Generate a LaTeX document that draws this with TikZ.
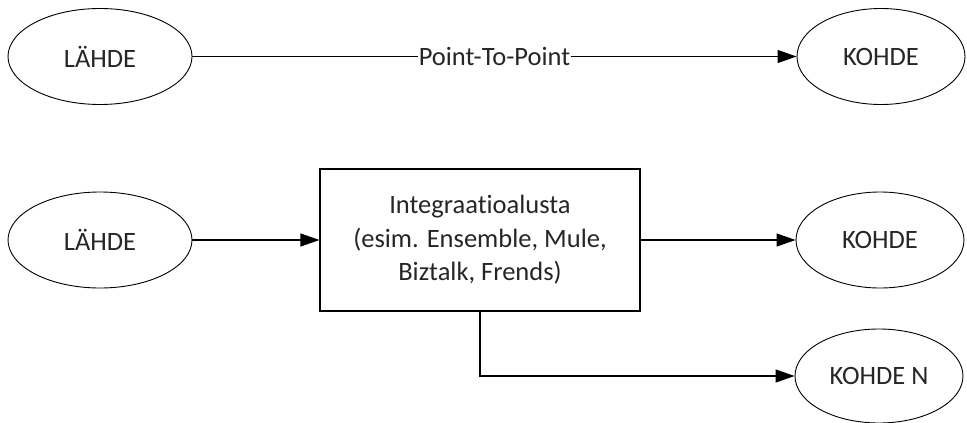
\documentclass[tikz,border=0pt]{standalone}
\usepackage{fontspec}
\setmainfont{Carlito}[Ligatures={NoCommon}]
\usepackage{tikz}
\usetikzlibrary{shapes.geometric}
\usetikzlibrary{arrows.meta}

\tikzset{
  endpoint/.style={draw, ellipse, line width=0.9pt, inner sep=0pt, text=black!85},
  platform/.style={draw, rectangle, line width=1.1pt, minimum width=320pt, minimum height=142pt, align=center, text=black!85},
  flow/.style={line width=1.2pt, -{Triangle[length=19pt,width=13pt]}}
}

\begin{document}
\begin{tikzpicture}[x=1pt, y=-1pt, font=\fontsize{26.5}{33.5}\selectfont]
                \useasboundingbox (0,0) rectangle (967,423);

                % Point-To-Point row
                \node[endpoint, minimum width=184pt, minimum height=96pt] (lahdeA) at (100, 56.5) {LÄHDE};
                \node[endpoint, minimum width=168pt, minimum height=96pt] (kohdeA) at (881, 56.5) {KOHDE};
                \draw[flow] (lahdeA) -- (kohdeA) node[midway, fill=white, inner sep=1pt, text=black!85]{Point-To-Point};

                % Integration platform row
                \node[endpoint, minimum width=184pt, minimum height=96pt] (lahdeB) at (100, 240) {LÄHDE};
                \node[platform] (alusta) at (480, 240) {Integraatioalusta\\(esim. Ensemble, Mule,\\Biztalk, Frends)};
                \node[endpoint, minimum width=168pt, minimum height=96pt] (kohdeB) at (880, 240) {KOHDE};
                \node[endpoint, minimum width=168pt, minimum height=94pt] (kohdeN) at (879, 376) {KOHDE N};

                \draw[flow] (lahdeB) -- (alusta);
                \draw[flow] (alusta) -- (kohdeB);
                \draw[flow] (alusta.south) |- (kohdeN);
            \end{tikzpicture}
\end{document}
